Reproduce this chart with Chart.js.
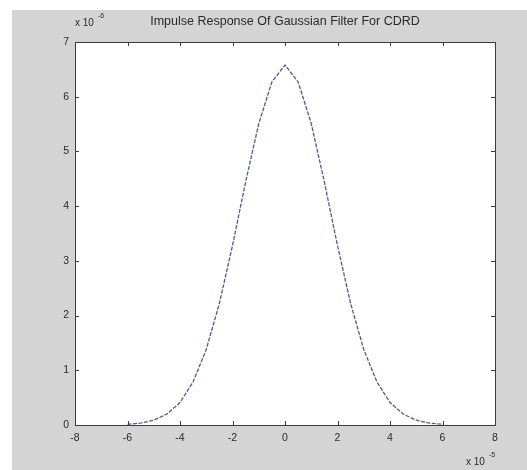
<!DOCTYPE html>
<html>
<head>
<meta charset="utf-8">
<script src="https://cdn.jsdelivr.net/npm/chart.js@4/dist/chart.umd.min.js"></script>
<style>
  html, body { margin: 0; padding: 0; background: #ffffff; }
  #wrap { position: relative; width: 527px; height: 470px; }
</style>
</head>
<body>
<div id="wrap"><canvas id="c" width="527" height="470"></canvas></div>
<script>
// Data (x in units of 1e-5, y in units of 1e-6)
const xValues = [-6, -5.5, -5, -4.5, -4, -3.5, -3, -2.5, -2, -1.5, -1, -0.5, 0, 0.5, 1, 1.5, 2, 2.5, 3, 3.5, 4, 4.5, 5, 5.5, 6];
const yValues = [0.013, 0.035, 0.087, 0.20, 0.41, 0.79, 1.38, 2.22, 3.28, 4.44, 5.51, 6.27, 6.58, 6.27, 5.51, 4.44, 3.28, 2.22, 1.38, 0.79, 0.41, 0.20, 0.087, 0.035, 0.013];
const xTicks = [-8, -6, -4, -2, 0, 2, 4, 6, 8];
const yTicks = [0, 1, 2, 3, 4, 5, 6, 7];
const titleText = 'Impulse Response Of Gaussian Filter For CDRD';
const yExponent = '-6';
const xExponent = '-5';

const points = xValues.map((x, i) => ({ x: x, y: yValues[i] }));

const axisColor = '#3c3c3c';
const textColor = '#2a2a2a';
const fontFamily = 'Liberation Sans, Arial, sans-serif';

const framePlugin = {
  id: 'frame',
  beforeDraw(chart) {
    const ctx = chart.ctx;
    ctx.save();
    ctx.fillStyle = '#ffffff';
    ctx.fillRect(0, 0, chart.width, chart.height);
    ctx.fillStyle = '#d4d4d4';
    ctx.fillRect(12, 10, chart.width - 12, chart.height - 10);
    const a = chart.chartArea;
    ctx.fillStyle = '#ffffff';
    ctx.fillRect(a.left, a.top, a.right - a.left, a.bottom - a.top);
    ctx.restore();
  },
  afterDraw(chart) {
    const ctx = chart.ctx;
    const a = chart.chartArea;
    const xs = chart.scales.x, ys = chart.scales.y;
    ctx.save();
    ctx.strokeStyle = axisColor;
    ctx.lineWidth = 1;
    ctx.strokeRect(Math.round(a.left) + 0.5, Math.round(a.top) + 0.5, Math.round(a.right - a.left), Math.round(a.bottom - a.top));
    const tl = 4;
    ctx.beginPath();
    xs.ticks.forEach(t => {
      const px = Math.round(xs.getPixelForValue(t.value)) + 0.5;
      ctx.moveTo(px, a.bottom); ctx.lineTo(px, a.bottom - tl);
      ctx.moveTo(px, a.top); ctx.lineTo(px, a.top + tl);
    });
    ys.ticks.forEach(t => {
      const py = Math.round(ys.getPixelForValue(t.value)) + 0.5;
      ctx.moveTo(a.left, py); ctx.lineTo(a.left + tl, py);
      ctx.moveTo(a.right, py); ctx.lineTo(a.right - tl, py);
    });
    ctx.stroke();

    // title
    ctx.fillStyle = textColor;
    ctx.font = '12.5px ' + fontFamily;
    ctx.textAlign = 'center';
    ctx.textBaseline = 'middle';
    ctx.fillText(titleText, (a.left + a.right) / 2, 22);

    // y exponent
    ctx.textAlign = 'left';
    ctx.font = '10px ' + fontFamily;
    ctx.fillText('x 10', 75, 23);
    ctx.font = '7px ' + fontFamily;
    ctx.fillText(yExponent, 98, 16);

    // x exponent
    ctx.font = '10px ' + fontFamily;
    ctx.fillText('x 10', 466, 462);
    ctx.font = '7px ' + fontFamily;
    ctx.fillText(xExponent, 489, 455);
    ctx.restore();
  }
};

new Chart(document.getElementById('c'), {
  type: 'line',
  data: {
    datasets: [{
      data: points,
      borderColor: '#55559e',
      borderWidth: 1.3,
      borderDash: [4, 1.5],
      pointRadius: 0,
      tension: 0,
      fill: false
    }]
  },
  options: {
    responsive: false,
    animation: false,
    events: [],
    layout: { padding: { left: 0, right: 32, top: 42, bottom: 0 } },
    plugins: { legend: { display: false }, tooltip: { enabled: false }, title: { display: false } },
    scales: {
      x: {
        type: 'linear',
        min: -8, max: 8,
        afterBuildTicks: s => { s.ticks = xTicks.map(v => ({ value: v })); },
        afterFit: s => { s.height = 45; },
        grid: { display: false, drawTicks: false },
        border: { display: false },
        ticks: { color: textColor, font: { size: 10.5, family: fontFamily }, padding: 7, maxRotation: 0, autoSkip: false }
      },
      y: {
        type: 'linear',
        min: 0, max: 7,
        afterBuildTicks: s => { s.ticks = yTicks.map(v => ({ value: v })); },
        afterFit: s => { s.width = 75; },
        grid: { display: false, drawTicks: false },
        border: { display: false },
        ticks: { color: textColor, font: { size: 10.5, family: fontFamily }, padding: 6, autoSkip: false }
      }
    }
  },
  plugins: [framePlugin]
});
</script>
</body>
</html>
